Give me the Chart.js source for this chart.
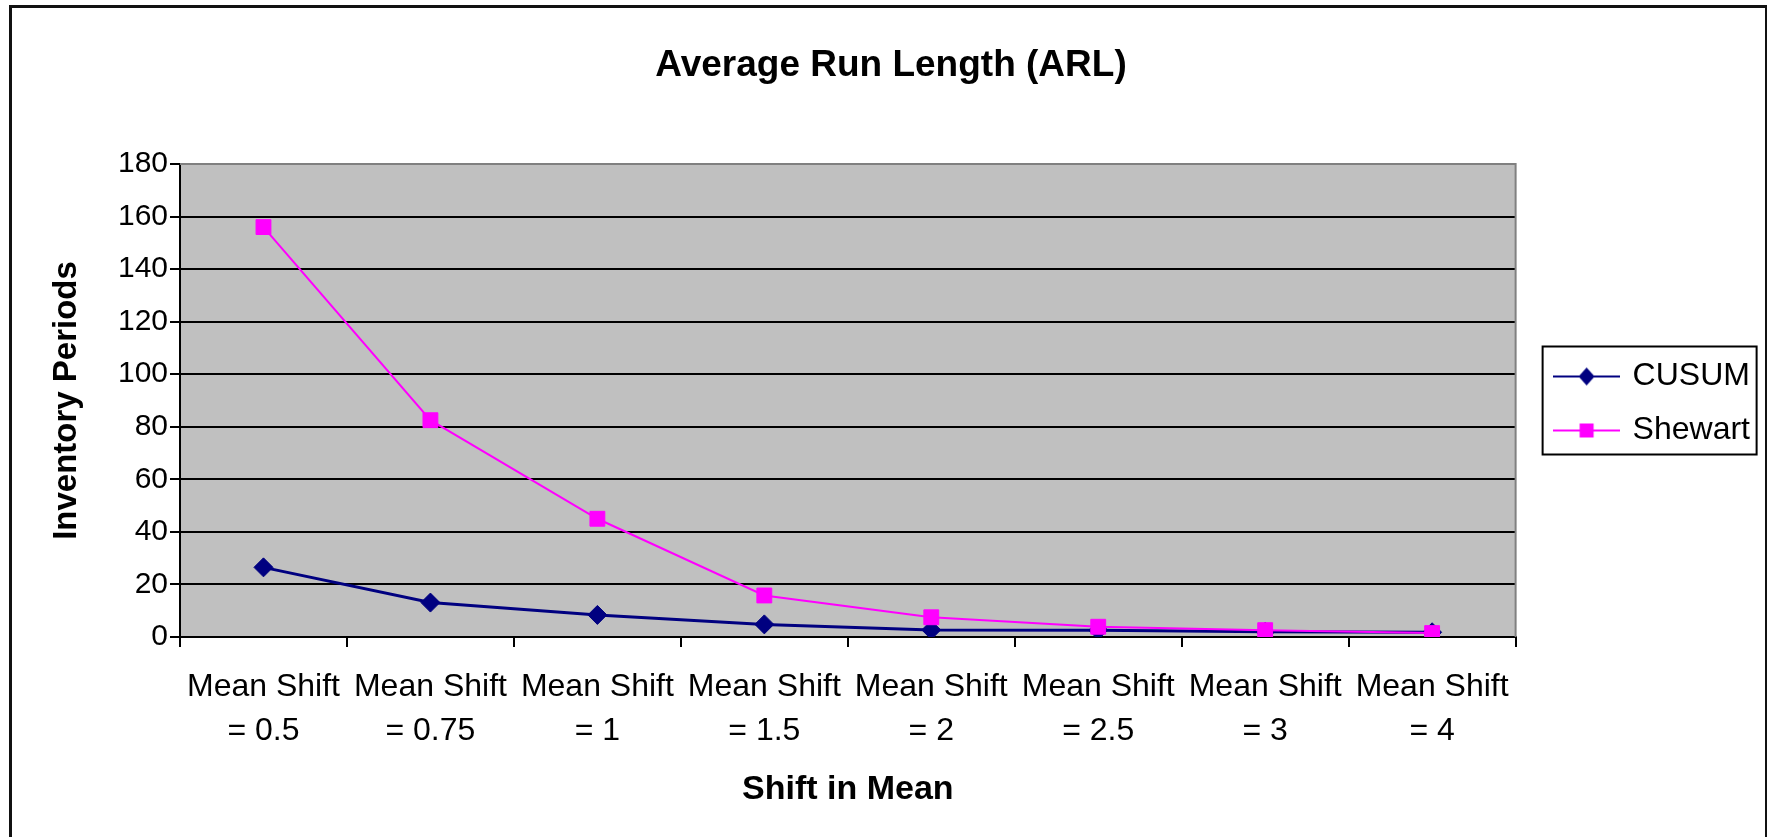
<!DOCTYPE html>
<html><head><meta charset="utf-8">
<script src="https://cdn.jsdelivr.net/npm/chart.js@4.4.1/dist/chart.umd.min.js"></script>
<style>html,body{margin:0;padding:0;background:#fff;overflow:hidden}#wrap{width:1767px;height:837px;position:relative}</style>
</head><body><div id="wrap"><canvas id="c" width="1767" height="837"></canvas></div>
<script>
const categories = [
  ["Mean Shift", "= 0.5"], ["Mean Shift", "= 0.75"], ["Mean Shift", "= 1"], ["Mean Shift", "= 1.5"],
  ["Mean Shift", "= 2"], ["Mean Shift", "= 2.5"], ["Mean Shift", "= 3"], ["Mean Shift", "= 4"]
];
const cusumValues = [26.5, 13.1, 8.4, 4.8, 2.7, 2.6, 2.0, 1.8];
const shewartValues = [156, 82.5, 45, 15.8, 7.5, 3.9, 2.6, 1.5];
const seriesNames = ["CUSUM", "Shewart"];
const yMin = 0, yMax = 180, yStep = 20;
const chartTitle = "Average Run Length (ARL)";
const yTitle = "Inventory Periods";
const xTitle = "Shift in Mean";

const NAVY = '#000080', MAGENTA = '#FF00FF';
const FONT = '"Liberation Sans", Arial, sans-serif';
Chart.defaults.font.family = FONT;
Chart.defaults.color = '#000';

function legendSymbol(color, shape) {
  const c = document.createElement('canvas');
  c.width = 67; c.height = 24;
  const g = c.getContext('2d');
  g.strokeStyle = color; g.lineWidth = 2;
  g.beginPath(); g.moveTo(0, 12); g.lineTo(67, 12); g.stroke();
  g.fillStyle = color;
  g.beginPath();
  if (shape === 'diamond') {
    g.moveTo(33.5 - 8, 12); g.lineTo(33.5, 3); g.lineTo(33.5 + 8, 12); g.lineTo(33.5, 21); g.closePath();
  } else {
    g.rect(33.5 - 7, 12 - 7, 14, 14);
  }
  g.fill();
  return c;
}
const legendSymbols = [legendSymbol(NAVY, 'diamond'), legendSymbol(MAGENTA, 'square')];

const framePlugin = {
  id: 'frame',
  afterLayout(chart) {
    const lg = chart.legend;
    if (lg) { lg.top -= 15; lg.bottom -= 15; }
  },
  beforeDraw(chart) {
    const {ctx, chartArea: a} = chart;
    ctx.save();
    ctx.fillStyle = '#C0C0C0';
    ctx.fillRect(a.left, a.top, a.right - a.left, a.bottom - a.top);
    ctx.restore();
  },
  beforeDatasetsDraw(chart) {
    const {ctx, chartArea: a} = chart;
    ctx.save();
    ctx.strokeStyle = '#808080'; ctx.lineWidth = 2;
    ctx.beginPath();
    ctx.moveTo(a.left, a.top); ctx.lineTo(a.right, a.top); ctx.lineTo(a.right, a.bottom);
    ctx.stroke();
    ctx.restore();
  },
  afterDraw(chart) {
    const {ctx} = chart;
    ctx.save();
    ctx.fillStyle = '#111';
    ctx.fillRect(9, 5, 3, 832);
    ctx.fillRect(9, 5, 1758, 3);
    ctx.fillRect(1765, 5, 2, 832);
    const lg = chart.legend;
    if (lg && lg.legendHitBoxes && lg.legendHitBoxes.length) {
      const hb = lg.legendHitBoxes;
      const l = hb[0].left - 14, t = hb[0].top - 14;
      const r = hb[0].left + 200, b = hb[hb.length - 1].top + hb[hb.length - 1].height + 8;
      ctx.strokeStyle = '#000'; ctx.lineWidth = 2;
      ctx.strokeRect(l, t, r - l, b - t);
    }
    ctx.restore();
  }
};

new Chart(document.getElementById('c'), {
  type: 'line',
  data: {
    labels: categories,
    datasets: [
      { label: seriesNames[0], data: cusumValues, borderColor: NAVY, backgroundColor: NAVY,
        borderWidth: 3, pointStyle: 'rectRot', pointRadius: 9.5, pointHoverRadius: 9.5,
        pointBorderWidth: 1, tension: 0, order: 1 },
      { label: seriesNames[1], data: shewartValues, borderColor: MAGENTA, backgroundColor: MAGENTA,
        borderWidth: 2, pointStyle: 'rect', pointRadius: 10.5, pointHoverRadius: 10.5,
        pointBorderWidth: 1, tension: 0, order: 0 }
    ]
  },
  options: {
    responsive: false,
    animation: false,
    devicePixelRatio: 1,
    layout: { padding: { left: 22, right: 7, top: 0, bottom: 0 } },
    plugins: {
      title: {
        display: true, text: chartTitle, color: '#000',
        font: { size: 37, weight: 'bold', lineHeight: 1.2 },
        padding: { top: 43.8, bottom: 75.8 }
      },
      legend: {
        display: true, position: 'right', align: 'center',
        labels: {
          usePointStyle: true, pointStyleWidth: 60, padding: 22,
          font: { size: 32 }, color: '#000',
          generateLabels: (chart) => chart.data.datasets.map((ds, i) => ({
            text: ds.label, fillStyle: ds.borderColor, strokeStyle: ds.borderColor,
            lineWidth: 0, pointStyle: legendSymbols[i], hidden: false, datasetIndex: i, fontColor: '#000'
          }))
        }
      },
      tooltip: { enabled: false }
    },
    scales: {
      x: {
        type: 'category', offset: true,
        grid: { display: true, drawOnChartArea: false, drawTicks: true, tickLength: 10,
                color: '#000', tickColor: '#000', lineWidth: 2, offset: true },
        border: { display: true, color: '#000', width: 2 },
        ticks: { autoSkip: false, maxRotation: 0, minRotation: 0, padding: 18, color: '#000',
                 font: { size: 32, lineHeight: 1.375 } },
        title: { display: true, text: xTitle, color: '#000',
                 font: { size: 34, weight: 'bold', lineHeight: 1.2 }, padding: { top: 0, bottom: 27 } },
        afterFit(s) { s.height = 200; }
      },
      y: {
        type: 'linear', min: yMin, max: yMax,
        grid: { color: (c) => (c.tick && c.tick.value === yMax) ? '#808080' : '#000',
                tickColor: '#000', lineWidth: 2, tickLength: 10, drawTicks: true },
        border: { display: true, color: '#000', width: 2 },
        ticks: { stepSize: yStep, padding: 2, color: '#000', font: { size: 30 } },
        title: { display: true, text: yTitle, color: '#000',
                 font: { size: 33, weight: 'bold', lineHeight: 1.2 }, padding: { top: 25.2, bottom: 0 } },
        afterFit(s) { s.width = 158; }
      },
      yR: {
        type: 'linear', position: 'right', display: true,
        grid: { display: false, drawOnChartArea: false },
        border: { display: false },
        ticks: { display: false },
        afterFit(s) { s.width = 19; }
      }
    }
  },
  plugins: [framePlugin]
});
</script>
</body></html>
